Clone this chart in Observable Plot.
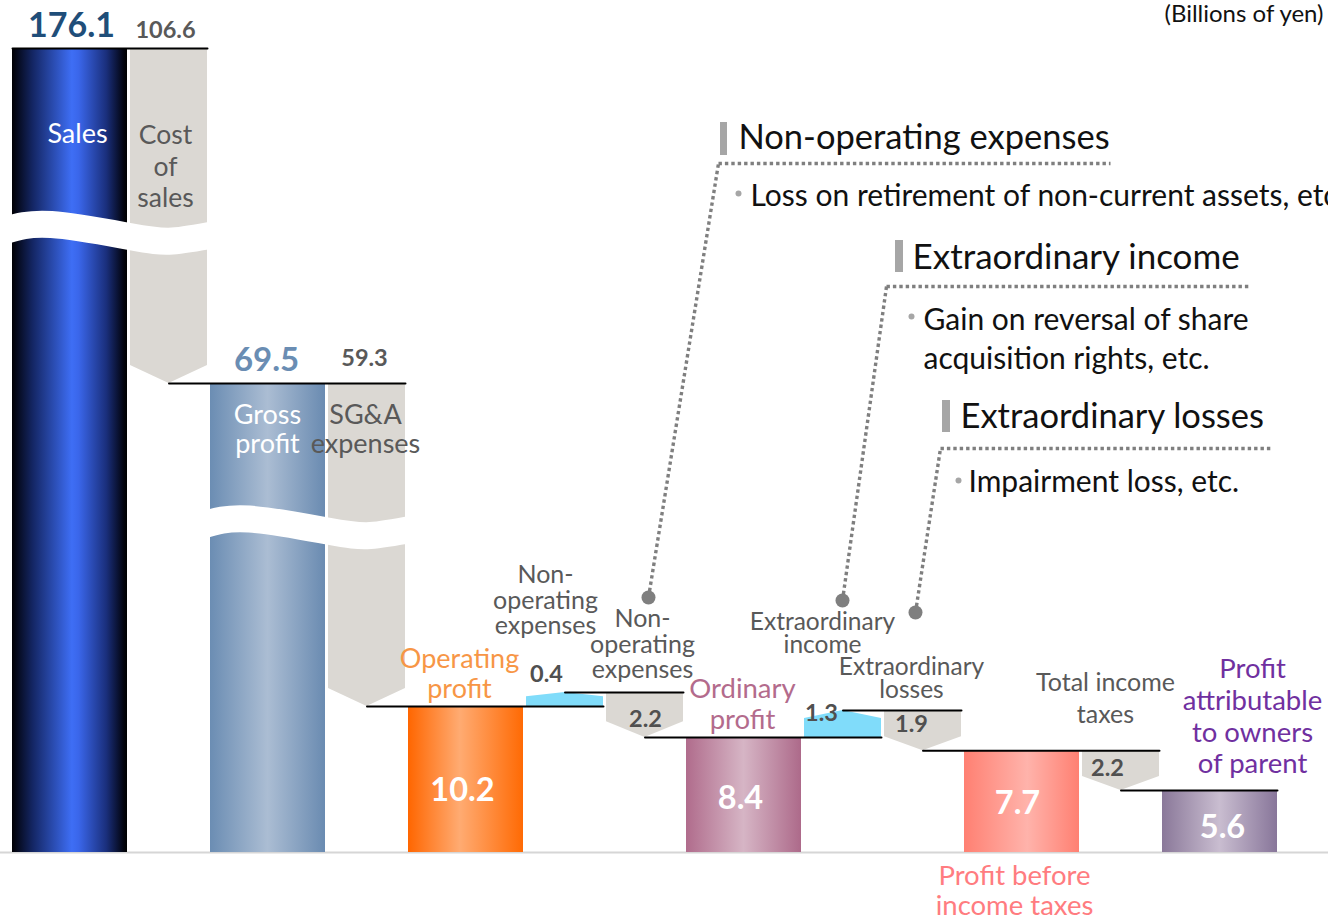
<!DOCTYPE html>
<html><head><meta charset="utf-8">
<script src="https://cdn.jsdelivr.net/npm/d3@7"></script>
<script src="https://cdn.jsdelivr.net/npm/@observablehq/plot@0.6"></script>
<style>html,body{margin:0;padding:0;background:#fff}#chart svg{display:block}</style>
</head><body><div id="chart"></div>
<script>
// ---------------- DATA ----------------
const categories = ["Sales","Cost of sales","Gross profit","SG&A expenses","Operating profit",
  "Non-operating income","Non-operating expenses","Ordinary profit","Extraordinary income",
  "Extraordinary losses","Profit before income taxes","Total income taxes","Profit attributable to owners of parent"];
const kinds  = ["total","down","total","down","total","up","down","total","up","down","total","down","total"];
const values = [176.1,106.6,69.5,59.3,10.2,0.4,2.2,8.4,1.3,1.9,7.7,2.2,5.6];
const nameLabels = ["Sales","Cost\nof\nsales","Gross\nprofit","SG&A\nexpenses","Operating\nprofit",
  "Non-\noperating\nexpenses","Non-\noperating\nexpenses","Ordinary\nprofit","Extraordinary\nincome",
  "Extraordinary\nlosses","Profit before\nincome taxes","Total income\ntaxes","Profit\nattributable\nto owners\nof parent"];
const unitLabel = "(Billions of yen)";
const calloutTitles = ["Non-operating expenses","Extraordinary income","Extraordinary losses"];
const calloutItems = [["Loss on retirement of non-current assets, etc"],["Gain on reversal of share","acquisition rights, etc."],["Impairment loss, etc."]];
// broken (piecewise) value axis
const yDomain = [0, 5.6, 8.4, 9.7, 10.2, 10.6, 69.5, 176.1];
const yRange  = [852, 790, 737, 710, 706, 692, 383, 48];
const breakLevels = [118.5, 42.7];   // where the axis breaks are drawn (value units)
const breakAfter  = [0, 2];          // break over Sales/Cost and Gross/SG&A

// ---------------- LAYOUT ----------------
const W = 1328, H = 918;
const barW = 115, stepW = 77, gap = 3, startX = 12;
const yS = d3.scaleLinear().domain(yDomain).range(yRange);
const yAt = px => yS.invert(px);

let cursor = startX, level = 0;
const items = categories.map((name, i) => {
  const kind = kinds[i], v = values[i];
  const w = kind === "total" ? barW : stepW;
  const x0 = cursor, x1 = cursor + w; cursor = x1 + gap;
  let start, end;
  if (kind === "total") { start = 0; end = v; }
  else {
    start = level;
    const nextTotal = kinds[i + 1] === "total" ? values[i + 1] : null;
    end = nextTotal ?? (kind === "down" ? level - v : level + v);
  }
  level = end;
  return {i, name, kind, value: v, x0, x1, xc: (x0 + x1) / 2, start, end};
});

// step shapes (chevrons)
const stepPts = [];
items.filter(d => d.kind !== "total").forEach(d => {
  const h = Math.abs(yS(d.end) - yS(d.start));
  if (d.kind === "down") {
    const side = yAt(yS(d.end) - Math.min(18, 0.35 * h));
    stepPts.push({id: d.i, kind: "down", x: d.x0, y1: side, y2: d.start},
                 {id: d.i, kind: "down", x: d.xc, y1: d.end, y2: d.start},
                 {id: d.i, kind: "down", x: d.x1, y1: side, y2: d.start});
  } else {
    const side = yAt(yS(d.end) + Math.min(8, 0.3 * h));
    stepPts.push({id: d.i, kind: "up", x: d.x0, y1: d.start, y2: side},
                 {id: d.i, kind: "up", x: d.xc, y1: d.start, y2: d.end},
                 {id: d.i, kind: "up", x: d.x1, y1: d.start, y2: side});
  }
});

// connector lines
const connectors = [];
items.forEach((d, i) => {
  if (i === 0 || d.kind !== "total") {
    const nextChange = items.slice(i + 1).find(e => e.kind !== "total");
    const xTo = nextChange ? nextChange.x1 : items[items.length - 1].x1;
    const xFrom = i === 0 ? d.x0 : d.xc;
    connectors.push({id: i, x: xFrom, y: d.end}, {id: i, x: xTo, y: d.end});
  }
});

// axis break bands (wavy white)
const waveT = [-0.04, 0.2, 0.6, 0.82, 1.04];
const waveDy = [1, -5, 7, 11.5, 5];
const wavePts = [];
breakAfter.forEach((k, b) => {
  const xa = items[k].x0, xb = items[k + 1].x1;
  waveT.forEach((t, j) => wavePts.push({id: b, x: xa + t * (xb - xa), y: yAt(yS(breakLevels[b]) + waveDy[j])}));
});

// label placement (pixel layout)
const valuePos = [[71,26],[165,29.5],[266,359.5],[364,357.5],[462,790],[546,674],[645,719.3],[740,798],[821,712.6],[911,724.3],[1017,803],[1107,767.6],[1222,827]];
const namePos = [[77,133.4],[165,165],[267,428.4],[365,428.4],[459,673],[545,600],[642,644],[742,703.5],[822,633.7],[911,678.7],[1014,890],[1105,696],[1252,715.3]];
const GRAY = "#595959";
const nameStyle = [
  {fill:"#fff", size:27, lh:1.1}, {fill:GRAY, size:26.5, lh:1.19}, {fill:"#fff", size:27, lh:1.11},
  {fill:GRAY, size:27, lh:1.11}, {fill:"#f79646", size:27, lh:1.11}, {fill:GRAY, size:25, lh:1.02},
  {fill:GRAY, size:25, lh:1.02}, {fill:"#b36b8c", size:27.5, lh:1.13}, {fill:GRAY, size:24.5, lh:0.94},
  {fill:GRAY, size:24.5, lh:0.94}, {fill:"#ff7c80", size:27.5, lh:1.09}, {fill:GRAY, size:25, lh:1.28},
  {fill:"#7030a0", size:27.5, lh:1.15}];
const valueStyle = items.map((d, i) => {
  if (i === 0) return {fill:"#1f4e79", size:34, shadow:true};
  if (i === 2) return {fill:"#6a8db3", size:33, shadow:true};
  if (d.kind === "total") return {fill:"#fff", size:32.5, shadow:true};
  return {fill: i === 1 || i === 3 ? GRAY : "#505050", size:23.5, shadow:false};
});

const callouts = [
  {dot:[648,597], corner:[718,163], endX:1110, bar:[720,727,122,155], titleAt:[738,137], bulletAt:[738,193], textAt:[750,193.4], lh:1.3, title:34.5},
  {dot:[842,600], corner:[886,286], endX:1248, bar:[895,903,240,272], titleAt:[912,257], bulletAt:[911,316], textAt:[923,337], lh:1.3, title:35},
  {dot:[915,612], corner:[940,448], endX:1272, bar:[942,950,400,432], titleAt:[960,416], bulletAt:[958,480], textAt:[968,479.4], lh:1.3, title:34.5}
];
const calloutSegs = [];
callouts.forEach((c, k) => {
  calloutSegs.push({k, xa: c.dot[0], ya: yAt(c.dot[1]), xb: c.corner[0], yb: yAt(c.corner[1])});
  calloutSegs.push({k, xa: c.corner[0], ya: yAt(c.corner[1]), xb: c.endX, yb: yAt(c.corner[1])});
});

const gradients = {
  0:  [[0,"#000004"],[0.18,"#142664"],[0.52,"#3e6ef5"],[0.58,"#3a66ea"],[0.82,"#1a2f7c"],[0.97,"#02040f"],[1,"#000"]],
  2:  [[0,"#6b8db3"],[0.5,"#abbdd3"],[1,"#6a8bb1"]],
  4:  [[0,"#ff6600"],[0.45,"#ffab72"],[1,"#ff6a04"]],
  7:  [[0,"#b06c8c"],[0.5,"#d6b5c5"],[1,"#ad6a8a"]],
  10: [[0,"#ff8072"],[0.55,"#ffb3ab"],[1,"#ff8072"]],
  12: [[0,"#8a7899"],[0.5,"#c9bdd0"],[1,"#88769a"]]
};

// ---------------- MARKS ----------------
const marks = [
  Plot.ruleY([0], {stroke: "#d6d6d6", strokeWidth: 2}),
  Plot.area(stepPts.filter(p => p.kind === "down"), {x1: "x", y1: "y1", y2: "y2", z: "id", fill: "#dbd8d3"}),
  Plot.area(stepPts.filter(p => p.kind === "up"), {x1: "x", y1: "y1", y2: "y2", z: "id", fill: "#80dcfa"}),
  ...items.filter(d => d.kind === "total").map(d =>
    Plot.rect([d], {x1: "x0", x2: "x1", y1: "start", y2: "end", fill: `url(#grad${d.i})`, ariaLabel: "bar"})),
  Plot.line(wavePts, {x: "x", y: "y", z: "id", stroke: "#fff", strokeWidth: 27, curve: "natural"}),
  Plot.line(connectors, {x: "x", y: "y", z: "id", stroke: "#000", strokeWidth: 2}),
  Plot.link(calloutSegs, {x1: "xa", y1: "ya", x2: "xb", y2: "yb", stroke: "#7f7f7f", strokeWidth: 3.4, strokeDasharray: "3.4,3", ariaLabel: "callout"}),
  Plot.text([unitLabel], {frameAnchor: "top-right", dx: -5, dy: 4, text: d => d, fontSize: 24, fill: "#111", lineAnchor: "top"})
];

items.forEach((d, i) => {
  const vs = valueStyle[i];
  marks.push(Plot.text([values[i].toFixed(1)], {
    x: () => valuePos[i][0], y: () => yAt(valuePos[i][1]), text: t => t,
    fontSize: vs.size, fontWeight: "bold", fill: vs.fill, lineAnchor: "middle",
    ariaLabel: vs.shadow ? "shadowtext" : "valuetext"}));
  const ns = nameStyle[i];
  marks.push(Plot.text([nameLabels[i]], {
    x: () => namePos[i][0], y: () => yAt(namePos[i][1]), text: t => t,
    fontSize: ns.size, fill: ns.fill, lineAnchor: "middle", lineHeight: ns.lh}));
});

callouts.forEach((c, k) => {
  marks.push(
    Plot.dot([c.dot], {x: p => p[0], y: p => yAt(p[1]), r: 7, fill: "#7f7f7f"}),
    Plot.rect([c.bar], {x1: b => b[0], x2: b => b[1], y1: b => yAt(b[3]), y2: b => yAt(b[2]), fill: "#a6a6a6"}),
    Plot.text([calloutTitles[k]], {x: () => c.titleAt[0], y: () => yAt(c.titleAt[1]), text: t => t,
      fontSize: c.title, fill: "#111", textAnchor: "start", lineAnchor: "middle"}),
    Plot.dot([c.bulletAt], {x: p => p[0], y: p => yAt(p[1]), r: 3, fill: "#a6a6a6"}),
    Plot.text([calloutItems[k].join("\n")], {x: () => c.textAt[0], y: () => yAt(c.textAt[1]), text: t => t,
      fontSize: 30, fill: "#111", textAnchor: "start", lineAnchor: "middle", lineHeight: c.lh})
  );
});

const svg = Plot.plot({
  width: W, height: H,
  marginTop: 0, marginRight: 0, marginBottom: 0, marginLeft: 0,
  x: {type: "linear", domain: [0, W], range: [0, W], axis: null},
  y: {type: "linear", domain: yDomain, range: yRange, axis: null},
  style: {fontFamily: "Lato, 'Open Sans', sans-serif", background: "#fff", overflow: "visible"},
  marks
});

// gradients and shadows
const defs = d3.select(svg).insert("defs", ":first-child");
Object.entries(gradients).forEach(([id, stops]) => {
  const g = defs.append("linearGradient").attr("id", `grad${id}`).attr("x1", 0).attr("x2", 1).attr("y1", 0).attr("y2", 0);
  stops.forEach(([o, c]) => g.append("stop").attr("offset", o).attr("stop-color", c));
});
const fb = defs.append("filter").attr("id", "bshadow").attr("x", "-20%").attr("y", "-5%").attr("width", "140%").attr("height", "115%");
fb.append("feDropShadow").attr("dx", 0).attr("dy", 8).attr("stdDeviation", 4).attr("flood-color", "#000").attr("flood-opacity", 0.38);
const ft = defs.append("filter").attr("id", "tshadow").attr("x", "-20%").attr("y", "-20%").attr("width", "140%").attr("height", "140%");
ft.append("feDropShadow").attr("dx", 1.5).attr("dy", 2).attr("stdDeviation", 1.2).attr("flood-color", "#000").attr("flood-opacity", 0.35);
d3.select(svg).selectAll('g[aria-label="bar"]').attr("filter", "url(#bshadow)");
d3.select(svg).selectAll('g[aria-label="shadowtext"]').attr("filter", "url(#tshadow)");
d3.select(svg).selectAll('g[aria-label="callout"]').attr("stroke-dasharray", "3.4,3").attr("stroke-width", 3.4).attr("stroke", "#7f7f7f");

document.getElementById("chart").appendChild(svg);
</script>
</body></html>
